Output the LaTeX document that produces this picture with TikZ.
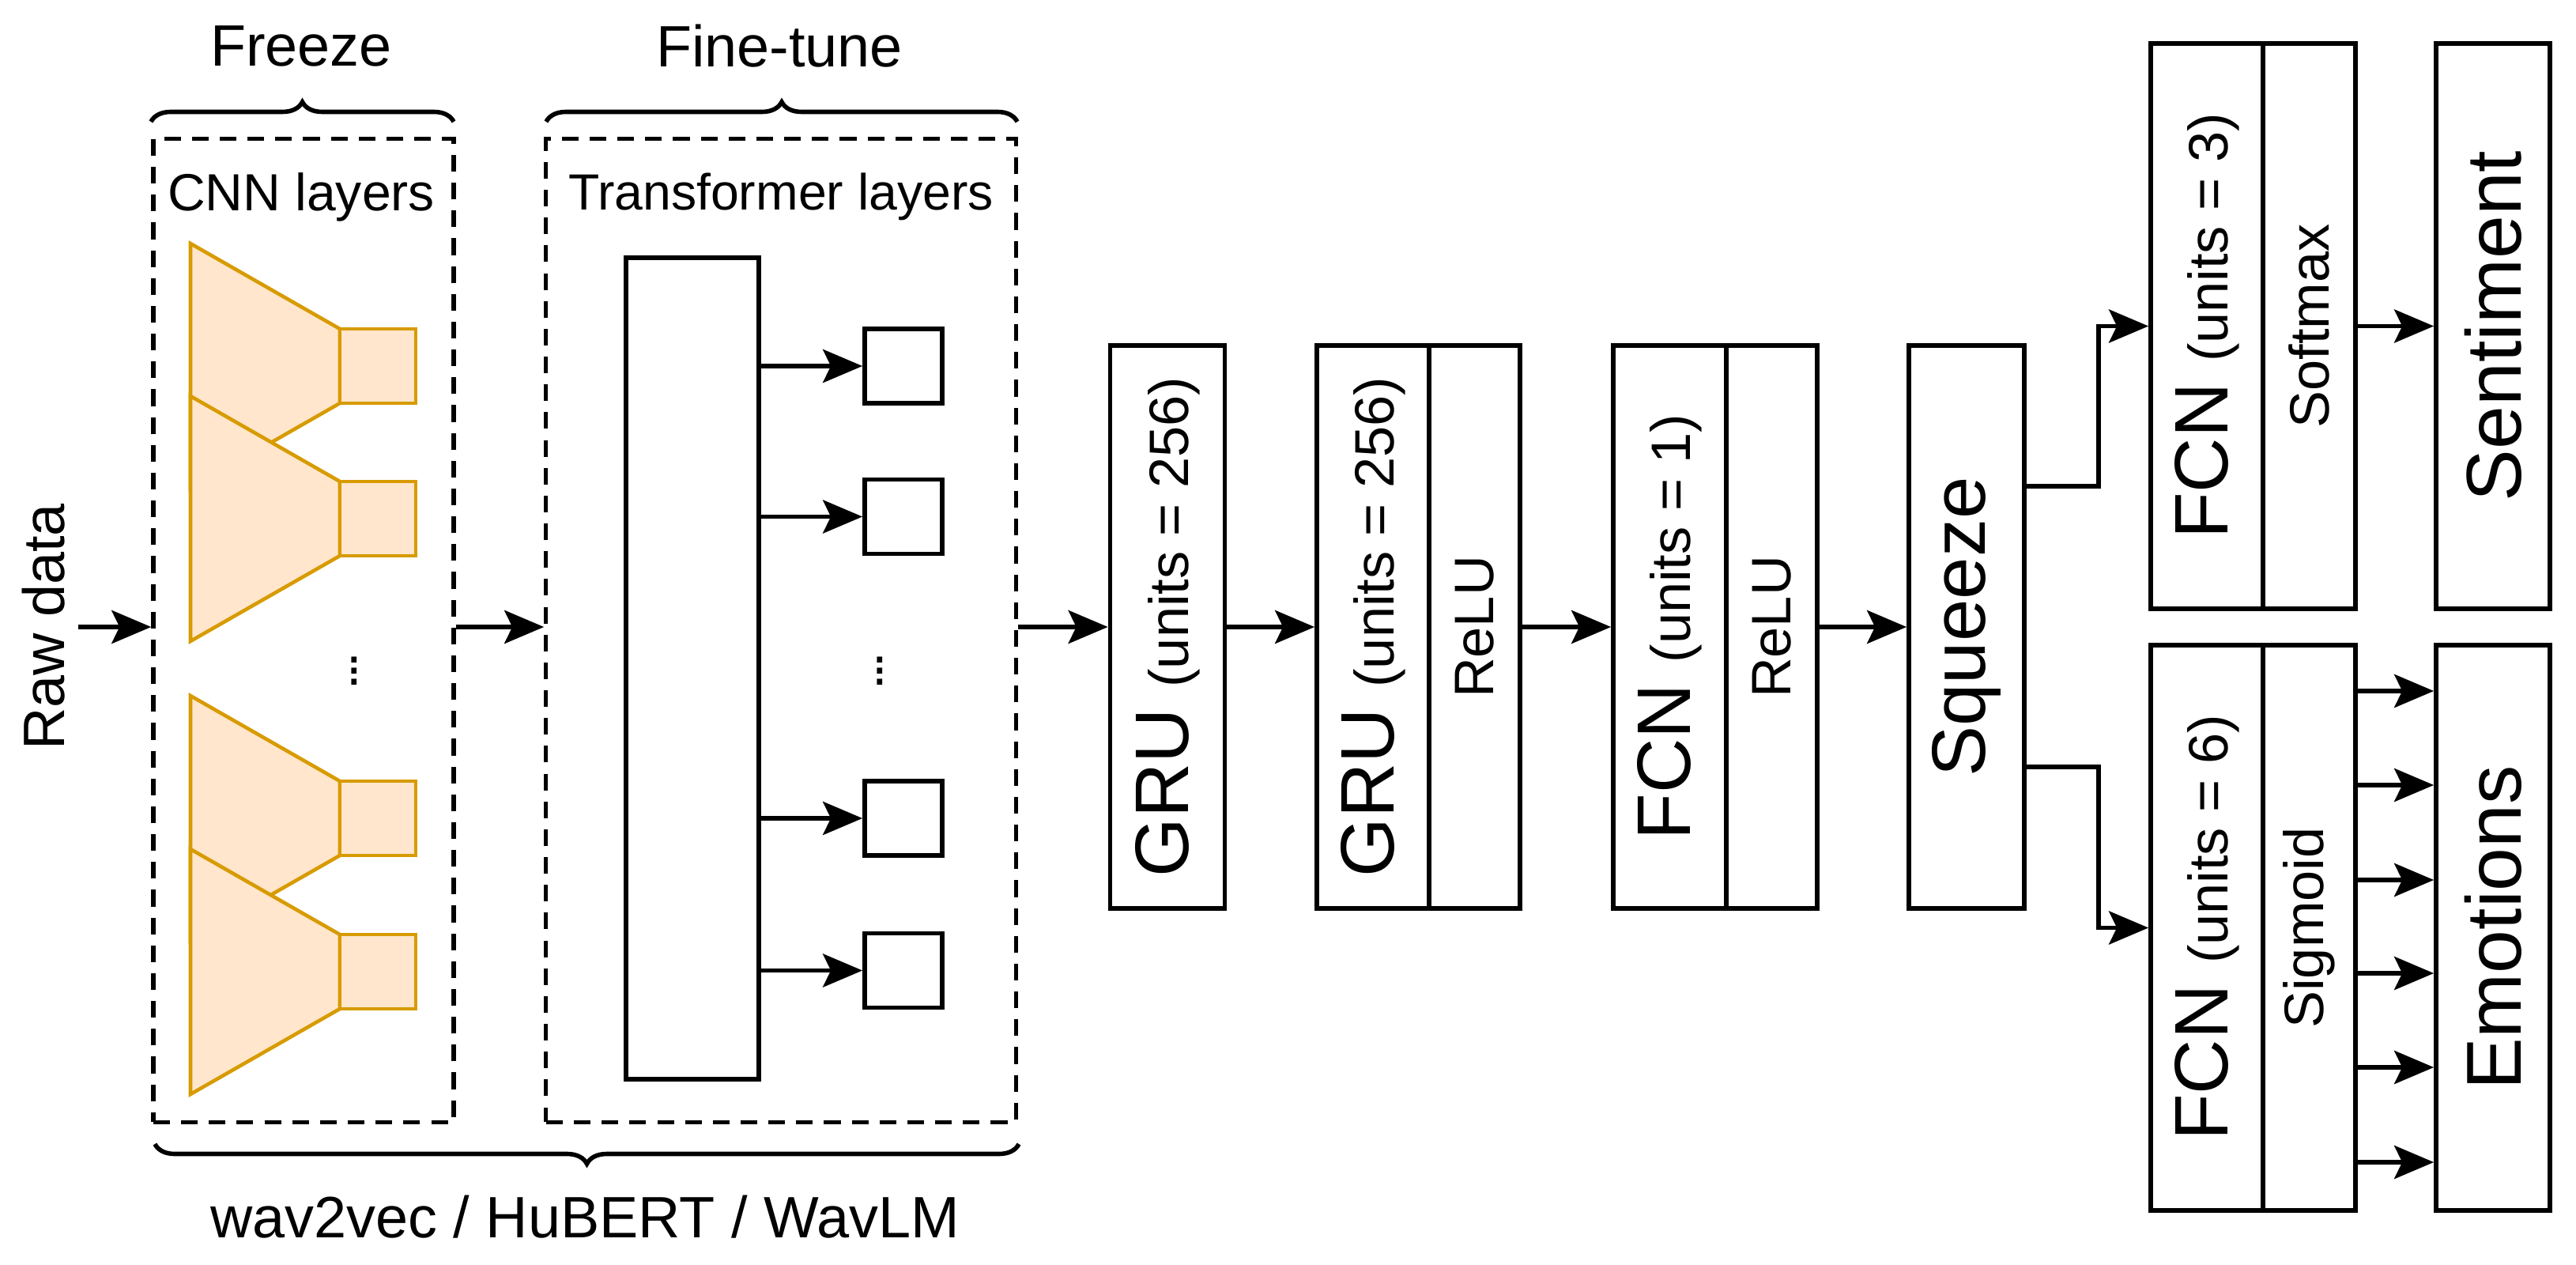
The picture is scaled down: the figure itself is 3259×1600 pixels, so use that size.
\documentclass[tikz,border=0pt]{standalone}
\usepackage{fontspec}
\setmainfont{Liberation Sans}
\usetikzlibrary{arrows.meta,decorations.pathreplacing}
\definecolor{cnnfill}{HTML}{FFE6CC}
\definecolor{cnnline}{HTML}{D79B00}
\newcommand{\fsBig}{\fontsize{27.3}{30}\selectfont}
\newcommand{\fsMid}{\fontsize{20}{24}\selectfont}
\newcommand{\fsLab}{\fontsize{21}{25}\selectfont}
\begin{document}
\begin{tikzpicture}[x=0.01cm,y=-0.01cm,
  lw/.style={line width=1.6pt},
  box/.style={draw,lw,inner sep=0pt,minimum height=7.12cm},
  obox/.style={draw,lw,inner sep=0pt,minimum height=7.15cm},
  dbox/.style={draw,line width=1.5pt,dash pattern=on 6pt off 4pt,inner sep=0pt,minimum height=12.43cm},
  arr/.style={lw,-{Stealth[length=0.5cm,width=0.42cm,inset=0.1cm]}},
  trap/.style={draw=cnnline,fill=cnnfill,line width=1.3pt},
  br/.style={draw,line width=1.6pt,decorate,decoration={brace,amplitude=0.25cm}},
  rt/.style={rotate=90}]
\useasboundingbox (0,0) rectangle (3259,1600);
% brace labels
\node (tfreeze) at (381,58) {\fsLab Freeze};
\node (tfine) at (986,58) {\fsLab Fine-tune};
\node (twav) at (740,1539) {\fsLab wav2vec / HuBERT / WavLM};
\draw[br] (191,154) -- (574,154);
\draw[br] (691,154) -- (1287,154);
\draw[br] (1289,1447) -- (196,1447);
% dashed boxes
\node[dbox,minimum width=3.8cm] (freeze) at (384,797.5) {};
\node[dbox,minimum width=5.94cm] (fine) at (988,797.5) {};
\node (tcnn) at (381,249) {\fontsize{18.8}{22}\selectfont CNN layers};
\node (ttr) at (988,249) {\fontsize{18.3}{22}\selectfont Transformer layers};
% CNN trapezoids
\foreach \t in {308,501,880,1074}{
  \draw[trap] (241,\t) -- (430,\t+108) -- (430,\t+202) -- (241,\t+310) -- cycle;
  \draw[trap] (430,\t+108) rectangle (526,\t+202);
}
\node[inner sep=0pt] (d1) at (448,838) {\fsMid$\vdots$};
% transformer
\node[draw,lw,minimum width=1.68cm,minimum height=10.39cm] (tall) at (876,845.5) {};
\foreach \i/\y in {1/463,2/653.5,3/1035,4/1227.5}{
  \node[draw,lw,minimum width=0.98cm,minimum height=0.94cm] (sb\i) at (1143,\y) {};
  \draw[arr] (tall.east|-sb\i.west) -- (sb\i.west);
}
\node[inner sep=0pt] (d2) at (1113,838) {\fsMid$\vdots$};
% raw data
\node[rt] (raw) at (55,793) {\fsLab Raw data};
\coordinate (rawend) at (99,793);
\draw[arr] (rawend) -- (freeze.west|-rawend);
\draw[arr] (freeze.east|-rawend) -- (fine.west|-rawend);
% GRU1
\node[box,minimum width=1.45cm] (gru1) at (1477,793) {};
\node[rt] (gru1t) at (gru1) {\fsBig GRU\ {\fsMid(units = 256)}};
\draw[arr] (fine.east|-rawend) -- (gru1.west);
% GRU2
\node[box,minimum width=1.42cm] (gru2a) at (1737,793) {};
\node[box,minimum width=1.15cm] (gru2b) at (1865.5,793) {};
\node[rt] at (gru2a) {\fsBig GRU\ {\fsMid(units = 256)}};
\node[rt] at (gru2b) {\fsMid ReLU};
\draw[arr] (gru1.east) -- (gru2a.west);
% FCN1
\node[box,minimum width=1.43cm] (fc1a) at (2112.5,793) {};
\node[box,minimum width=1.15cm] (fc1b) at (2241.5,793) {};
\node[rt] at (fc1a) {\fsBig FCN\ {\fsMid(units = 1)}};
\node[rt] at (fc1b) {\fsMid ReLU};
\draw[arr] (gru2b.east) -- (fc1a.west);
% Squeeze
\node[box,minimum width=1.46cm] (sq) at (2488,793) {};
\node[rt] at (sq) {\fsBig Squeeze};
\draw[arr] (fc1b.east) -- (sq.west);
% upper FCN
\node[obox,minimum width=1.42cm] (fua) at (2792,412.5) {};
\node[obox,minimum width=1.17cm] (fub) at (2921.5,412.5) {};
\node[rt] at (fua) {\fsBig FCN\ {\fsMid(units = 3)}};
\node[rt] at (fub) {\fsMid Softmax};
\node[obox,minimum width=1.44cm] (sent) at (3154,412.5) {};
\node[rt] at (sent) {\fontsize{28}{30}\selectfont Sentiment};
% lower FCN
\node[obox,minimum width=1.42cm] (fla) at (2792,1173.5) {};
\node[obox,minimum width=1.17cm] (flb) at (2921.5,1173.5) {};
\node[rt] at (fla) {\fsBig FCN\ {\fsMid(units = 6)}};
\node[rt] at (flb) {\fsMid Sigmoid};
\node[obox,minimum width=1.44cm] (emo) at (3154,1173.5) {};
\node[rt] at (emo) {\fontsize{28}{30}\selectfont Emotions};
% squeeze branches
\coordinate (s1) at (2561,615);
\coordinate (s2) at (2561,970);
\draw[arr] (s1) -- (2655,615) |- (fua.west);
\draw[arr] (s2) -- (2655,970) |- (fla.west);
\draw[arr] (fub.east) -- (sent.west);
\foreach \i/\y in {1/874,2/993,3/1113,4/1231,5/1350,6/1470}{
  \coordinate (e\i) at (2980,\y);
  \draw[arr] (e\i) -- (emo.west|-e\i);
}
\end{tikzpicture}
\end{document}
